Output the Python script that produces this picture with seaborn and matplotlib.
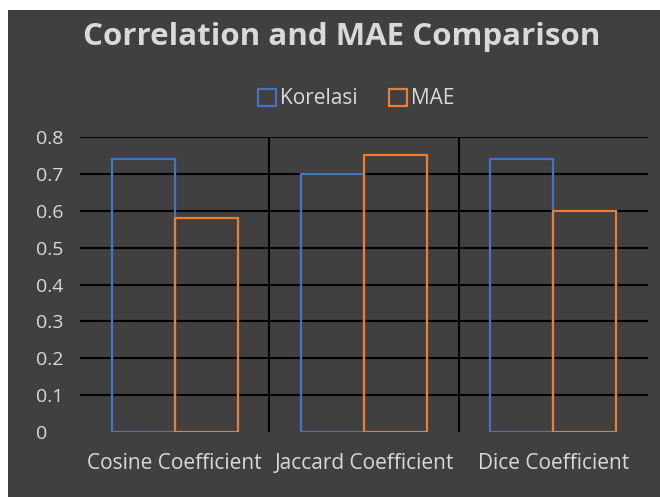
import matplotlib
matplotlib.use("Agg")
import matplotlib.pyplot as plt
from matplotlib.patches import Patch, Rectangle
import pandas as pd
import seaborn as sns

# chart data
categories = ["Cosine Coefficient", "Jaccard Coefficient", "Dice Coefficient"]
series = ["Korelasi", "MAE"]
korelasi = [0.74, 0.70, 0.74]
mae = [0.58, 0.75, 0.60]
y_ticks = [0, 0.1, 0.2, 0.3, 0.4, 0.5, 0.6, 0.7, 0.8]
y_tick_labels = ["0", "0.1", "0.2", "0.3", "0.4", "0.5", "0.6", "0.7", "0.8"]

df = pd.DataFrame({
    "category": categories * 2,
    "series": [series[0]] * 3 + [series[1]] * 3,
    "value": korelasi + mae,
})

bg = "#404040"
txt = "#d9d9d9"
colors = {"Korelasi": "#4472c4", "MAE": "#ed7d31"}

sns.set_style("white")
plt.rcParams["font.family"] = ["Open Sans", "DejaVu Sans"]

fig = plt.figure(figsize=(6.6, 4.97), dpi=100, facecolor="white")
# dark chart area (leaves a thin light border top/left like the screenshot)
fig.patches.append(Rectangle((8 / 660, 0), 1, 1 - 10 / 497, transform=fig.transFigure,
                             facecolor=bg, edgecolor="none", zorder=-1))

ax = fig.add_axes([80 / 660, 1 - 432 / 497, 568 / 660, 295 / 497])
ax.set_facecolor(bg)

sns.barplot(data=df, x="category", y="value", hue="series", order=categories,
            hue_order=series, palette=colors, fill=False, width=0.667,
            linewidth=1.6, gap=0, legend=False, ax=ax)

ax.set_ylim(0, 0.8)
ax.set_xlim(-0.5, 2.5)
ax.set_yticks(y_ticks)
ax.set_yticklabels(y_tick_labels)
ax.yaxis.grid(True, color="black", linewidth=1.5)
ax.set_axisbelow(True)
ax.vlines([0.5, 1.5], 0, 0.8, color="black", linewidth=1.5, zorder=0.5)
# hide the 0 gridline
ax.get_ygridlines()[0].set_visible(False)

for s in ax.spines.values():
    s.set_visible(False)
ax.tick_params(axis="both", length=0, colors=txt)
ax.tick_params(axis="x", pad=15, labelsize=15)
ax.tick_params(axis="y", pad=32, labelsize=14)
for lbl in ax.get_yticklabels():
    lbl.set_horizontalalignment("left")
ax.set_xlabel("")
ax.set_ylabel("")

fig.text(0.518, 1 - 37 / 497, "Correlation and MAE Comparison", ha="center", va="center",
         color=txt, fontsize=22.5, fontweight="bold")

handles = [Patch(facecolor="none", edgecolor=colors[s], linewidth=1.6, label=s) for s in series]
leg = fig.legend(handles=handles, loc="center", bbox_to_anchor=(0.540, 1 - 99 / 497), ncol=2,
                 frameon=False, fontsize=15, handlelength=0.87, handleheight=0.87,
                 handletextpad=0.2, columnspacing=1.5)
for t in leg.get_texts():
    t.set_color(txt)

fig.savefig("out.png", dpi=100, facecolor=fig.get_facecolor())
